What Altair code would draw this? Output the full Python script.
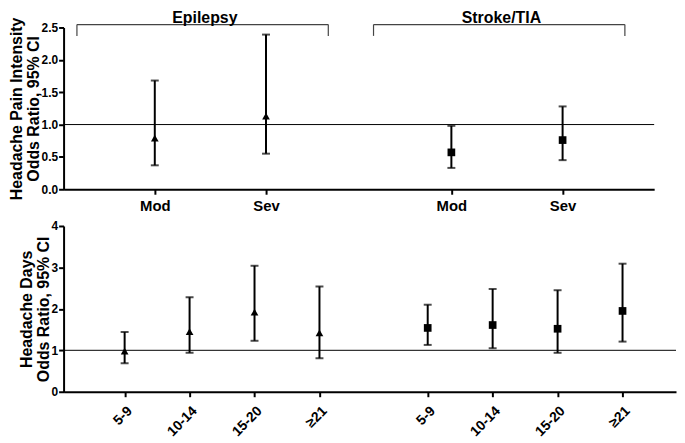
import altair as alt
import pandas as pd

# ---------------- data ----------------
groups = ["Epilepsy", "Stroke/TIA"]
group_shapes = ["triangle-up", "square"]

intensity_levels = ["Mod", "Sev"]
intensity_epi_or = [0.79, 1.13]
intensity_epi_lo = [0.37, 0.55]
intensity_epi_hi = [1.68, 2.39]
intensity_stroke_or = [0.57, 0.76]
intensity_stroke_lo = [0.33, 0.45]
intensity_stroke_hi = [0.98, 1.28]

days_levels = ["5-9", "10-14", "15-20", "≥21"]
days_epi_or = [0.98, 1.45, 1.92, 1.42]
days_epi_lo = [0.69, 0.94, 1.23, 0.81]
days_epi_hi = [1.44, 2.28, 3.04, 2.54]
days_stroke_or = [1.54, 1.61, 1.52, 1.95]
days_stroke_lo = [1.13, 1.05, 0.94, 1.21]
days_stroke_hi = [2.10, 2.48, 2.45, 3.09]

GAP = 5 / 3  # category steps between the last item of one group and the first of the next
FONT = "Liberation Sans"


def build(levels, series):
    rows = []
    n = len(levels)
    for g, (orv, lo, hi) in zip(groups, series):
        offset = 0 if g == groups[0] else (n - 1) + GAP
        for i, lab in enumerate(levels):
            rows.append(dict(group=g, level=lab, pos=offset + i,
                             OR=orv[i], lo=lo[i], hi=hi[i]))
    return pd.DataFrame(rows)


def label_expr(df):
    expr = "''"
    for p, lab in zip(df["pos"], df["level"]):
        expr = f"abs(datum.value - {p:.4f}) < 0.01 ? '{lab}' : ({expr})"
    return expr


def panel(df, ytitle, ydomain, yvalues, yfmt, xdomain, width, height,
          label_angle, label_size, label_pad, brackets=None):
    xaxis = alt.Axis(values=list(df["pos"]), labelExpr=label_expr(df),
                     title=None, labelAngle=label_angle, labelFontSize=label_size,
                     labelPadding=label_pad, labelOverlap=False)
    xs = alt.Scale(domain=xdomain, nice=False, zero=False)
    x = alt.X("pos:Q", scale=xs, axis=xaxis)
    yscale = alt.Scale(domain=ydomain, nice=False)
    yaxis = alt.Axis(values=yvalues, format=yfmt, title=ytitle, titlePadding=0,
                     labelPadding=1, labelOverlap=False)

    def Y(field):
        return alt.Y(field, scale=yscale, axis=yaxis)

    base = alt.Chart(df)
    ref = alt.Chart(pd.DataFrame({"v": [1]})).mark_rule(color="black", strokeWidth=1).encode(
        y=Y("v:Q"))
    bars = base.mark_rule(color="black", strokeWidth=2).encode(
        x=x, y=Y("lo:Q"), y2="hi:Q")
    cap_lo = base.mark_tick(color="black", orient="horizontal", size=8, thickness=2).encode(
        x=x, y=Y("lo:Q"))
    cap_hi = base.mark_tick(color="black", orient="horizontal", size=8, thickness=2).encode(
        x=x, y=Y("hi:Q"))
    pts = base.mark_point(filled=True, opacity=1, color="black", size=60).encode(
        x=x, y=Y("OR:Q"),
        shape=alt.Shape("group:N", scale=alt.Scale(domain=groups, range=group_shapes), legend=None))
    layers = [ref, bars, cap_lo, cap_hi, pts]

    if brackets is not None:
        bdf = brackets
        top = alt.Chart(bdf).mark_rule(color="#444", strokeWidth=1.2).encode(
            x=alt.X("left:Q", scale=xs, axis=xaxis), x2="right:Q", y=Y("ytop:Q"))
        lft = alt.Chart(bdf).mark_rule(color="#444", strokeWidth=1.2).encode(
            x=alt.X("left:Q", scale=xs, axis=xaxis), y=Y("ytop:Q"), y2="ybot:Q")
        rgt = alt.Chart(bdf).mark_rule(color="#444", strokeWidth=1.2).encode(
            x=alt.X("right:Q", scale=xs, axis=xaxis), y=Y("ytop:Q"), y2="ybot:Q")
        txt = alt.Chart(bdf).mark_text(font=FONT, fontWeight="bold", fontSize=16,
                                       color="black", baseline="middle").encode(
            x=alt.X("center:Q", scale=xs, axis=xaxis), y=Y("ytext:Q"), text="group:N")
        layers += [top, lft, rgt, txt]

    return alt.layer(*layers).properties(width=width, height=height)


top_df = build(intensity_levels, [
    (intensity_epi_or, intensity_epi_lo, intensity_epi_hi),
    (intensity_stroke_or, intensity_stroke_lo, intensity_stroke_hi)])
bot_df = build(days_levels, [
    (days_epi_or, days_epi_lo, days_epi_hi),
    (days_stroke_or, days_stroke_lo, days_stroke_hi)])

# brackets above the top panel, one per group
br_rows = []
for g in groups:
    sub = top_df[top_df["group"] == g]
    left = sub["pos"].min() - 0.70
    right = sub["pos"].max() + 0.56
    br_rows.append(dict(group=g, left=left, right=right, center=(left + right) / 2 + 0.02,
                        ytop=2.545, ybot=2.37, ytext=2.64))
br_df = pd.DataFrame(br_rows)

top_chart = panel(top_df, ["Headache Pain Intensity", "Odds Ratio, 95% CI"],
                  [0, 2.5], [0, 0.5, 1.0, 1.5, 2.0, 2.5], ".1f",
                  [-0.82, 4.49], 595, 163, 0, 15, 4, brackets=br_df)
bot_chart = panel(bot_df, ["Headache Days", "Odds Ratio, 95% CI"],
                  [0, 4], [0, 1, 2, 3, 4], "d",
                  [-0.94, 8.49], 617, 167, -45, 14, 7)

chart = alt.vconcat(top_chart, bot_chart, spacing=7).properties(
    padding={"left": 0, "top": 0, "right": 0, "bottom": 0}
).configure_view(stroke=None).configure_axis(
    grid=False, domainColor="black", domainWidth=2, tickColor="black", tickWidth=2,
    tickSize=5, labelFont=FONT, labelFontWeight="bold", labelColor="black",
    labelFontSize=12, titleFont=FONT, titleFontWeight="bold", titleFontSize=16,
    titleColor="black", titleLineHeight=17
)

chart.save("out.html", embed_options={"renderer": "svg", "actions": False})
